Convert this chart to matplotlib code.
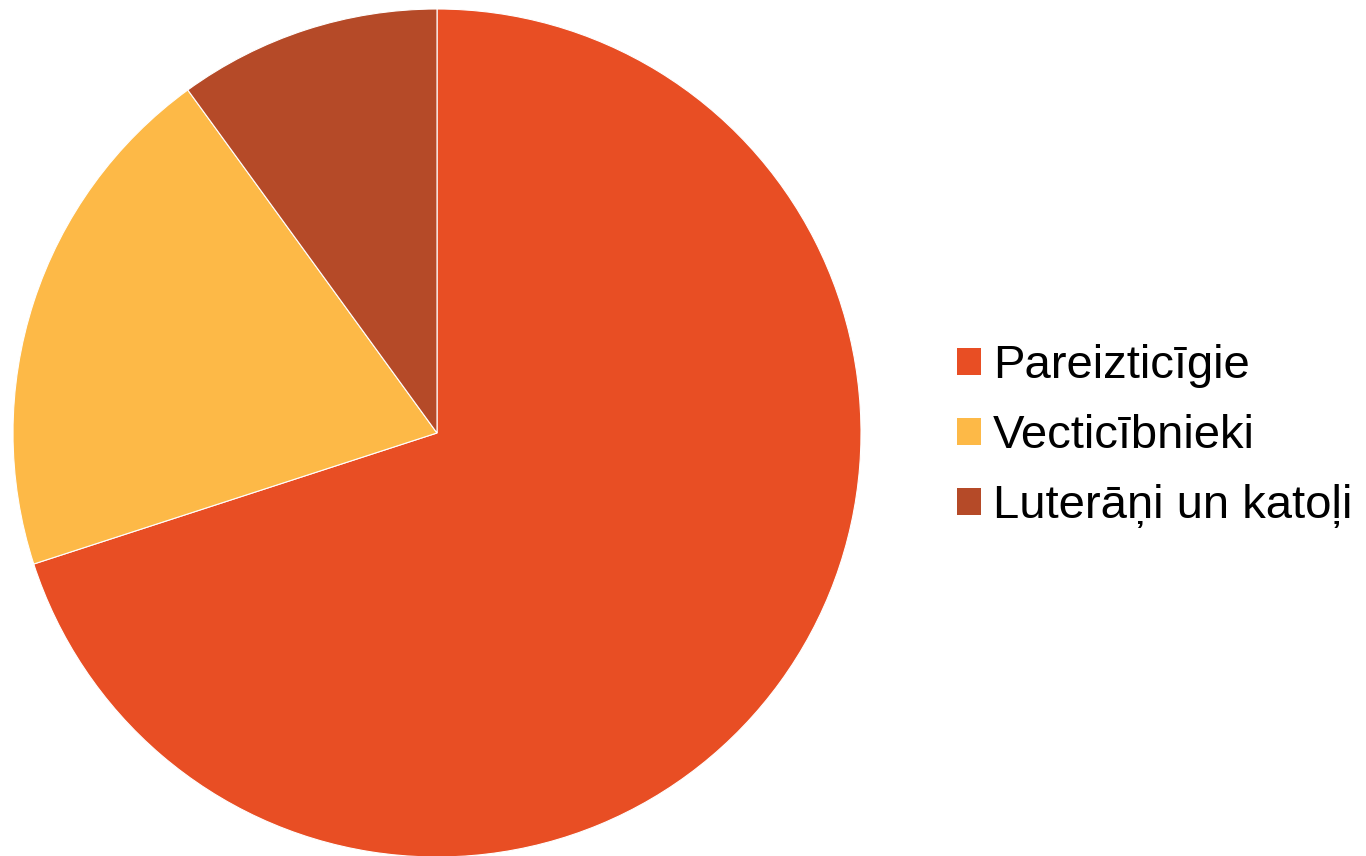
import matplotlib.pyplot as plt
from matplotlib.patches import Patch

plt.rcParams['font.family'] = ['Liberation Sans', 'DejaVu Sans']

labels = ['Pareizticīgie', 'Vecticībnieki', 'Luterāņi un katoļi']
values = [70, 20, 10]
colors = ['#E84E24', '#FDB947', '#B54A28']

fig = plt.figure(figsize=(13.66, 8.56), dpi=100)
ax = fig.add_axes([13 / 1366, -1 / 856, 848 / 1366, 848 / 856])
ax.pie(values, colors=colors, startangle=90, counterclock=False,
       wedgeprops={'edgecolor': 'white', 'linewidth': 0.8})
ax.set_xlim(-1, 1)
ax.set_ylim(-1, 1)
ax.set_aspect('equal')
ax.axis('off')

handles = [Patch(facecolor=c, edgecolor='none') for c in colors]
fig.legend(handles, labels, loc='center left',
           bbox_to_anchor=(957 / 1366, 1 - 436 / 856),
           frameon=False, fontsize=34, borderpad=0, borderaxespad=0,
           handlelength=0.51, handleheight=0.51, handletextpad=0.25,
           labelspacing=0.55)

plt.savefig('out.png', dpi=100)
